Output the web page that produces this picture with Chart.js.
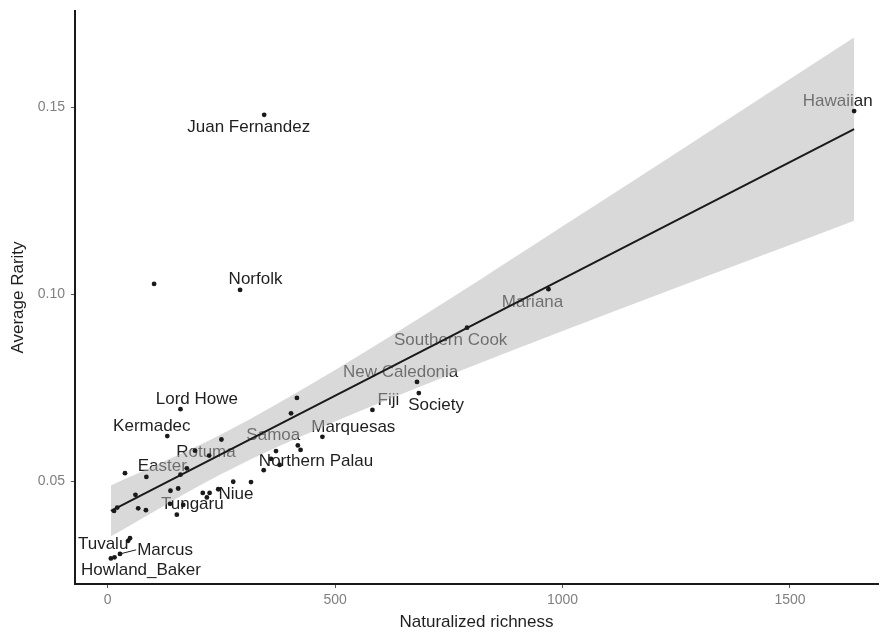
<!DOCTYPE html>
<html>
<head>
<meta charset="utf-8">
<title>Average rarity vs naturalized richness</title>
<script src="https://cdn.jsdelivr.net/npm/chart.js@4.4.1/dist/chart.umd.min.js"></script>
<style>
  html, body { margin: 0; padding: 0; background: #fff; }
  #wrap { width: 882px; height: 635px; }
</style>
</head>
<body>
<div id="wrap"><canvas id="chart" width="882" height="635"></canvas></div>
<script>
// Islands: the first 20 are labelled, in the same order as labelText
const richness = [1641, 344, 291, 969, 790, 680, 684, 582, 472, 370,
  343, 160, 131, 192, 174, 243, 137, 49, 27, 7,
  102, 416, 403, 418, 424, 359, 378, 250, 223, 160,
  38, 85, 61, 138, 155, 276, 315, 209, 224, 218,
  14, 21, 67, 84, 166, 152, 45, 15];
const rarity = [0.1489, 0.1479, 0.1011, 0.1013, 0.0910, 0.0765, 0.0735, 0.0690, 0.0618, 0.0580,
  0.0529, 0.0692, 0.0620, 0.0581, 0.0534, 0.0478, 0.0439, 0.0347, 0.0305, 0.0293,
  0.1027, 0.0722, 0.0681, 0.0595, 0.0583, 0.0559, 0.0543, 0.0611, 0.0568, 0.0517,
  0.0521, 0.0511, 0.0463, 0.0474, 0.0480, 0.0498, 0.0497, 0.0468, 0.0468, 0.0456,
  0.0420, 0.0429, 0.0427, 0.0422, 0.0436, 0.0410, 0.0340, 0.0296];

const labelText = ["Hawaiian", "Juan Fernandez", "Norfolk", "Mariana", "Southern Cook",
  "New Caledonia", "Society", "Fiji", "Marquesas", "Samoa",
  "Northern Palau", "Lord Howe", "Kermadec", "Rotuma", "Easter",
  "Niue", "Tungaru", "Tuvalu", "Marcus", "Howland_Baker"];
// where each label sits (data units)
const labelX = [1605, 310, 325, 934, 754, 644, 722, 617, 540, 364,
  458, 196, 97, 216, 120, 282, 186, -10, 126, 73];
const labelY = [0.1516, 0.1446, 0.1039, 0.0979, 0.0877, 0.0791, 0.0703, 0.0717, 0.0643, 0.0623,
  0.0552, 0.0719, 0.0647, 0.0578, 0.0538, 0.0465, 0.0439, 0.0332, 0.0316, 0.0262];
const leaderLabels = ["Marcus"];

// linear fit and its confidence band
const fitX = [7, 1641];
const fitY = [0.0420, 0.1441];
const bandX = [7, 250, 500, 750, 1000, 1250, 1500, 1641];
const bandUpper = [0.0488, 0.0625, 0.0797, 0.0985, 0.1181, 0.1377, 0.1575, 0.1686];
const bandLower = [0.0352, 0.0519, 0.0659, 0.0783, 0.0901, 0.1017, 0.1131, 0.1196];

const xTicks = [0, 500, 1000, 1500];
const yTicks = [0.05, 0.10, 0.15];
const xMin = -71.9, xMax = 1693.5;
const yMin = 0.02246, yMax = 0.17567;

const FONT = '"Liberation Sans", Arial, Helvetica, sans-serif';

// labels go under the band so the band greys them out, like the original
const islandLabels = {
  id: "islandLabels",
  beforeDatasetsDraw(chart) {
    const ctx = chart.ctx;
    const xs = chart.scales.x, ys = chart.scales.y;
    ctx.save();
    ctx.font = "17px " + FONT;
    ctx.fillStyle = "#1f1f1f";
    ctx.strokeStyle = "#1f1f1f";
    ctx.lineWidth = 1;
    ctx.textAlign = "center";
    ctx.textBaseline = "middle";
    labelText.forEach((t, i) => {
      const px = xs.getPixelForValue(labelX[i]);
      const py = ys.getPixelForValue(labelY[i]);
      ctx.fillText(t, px, py);
      if (leaderLabels.includes(t)) {
        const w = ctx.measureText(t).width;
        ctx.beginPath();
        ctx.moveTo(xs.getPixelForValue(richness[i]), ys.getPixelForValue(rarity[i]));
        ctx.lineTo(px - w / 2 - 1, py);
        ctx.stroke();
      }
    });
    ctx.restore();
  }
};

function xy(xsArr, ysArr) {
  return xsArr.map((x, i) => ({ x: x, y: ysArr[i] }));
}

new Chart(document.getElementById("chart"), {
  type: "scatter",
  data: {
    datasets: [
      {
        data: xy(richness, rarity),
        pointRadius: 2.4,
        pointBackgroundColor: "#1a1a1a",
        pointBorderWidth: 0,
        order: 0
      },
      {
        data: xy(fitX, fitY),
        showLine: true,
        borderColor: "#1a1a1a",
        borderWidth: 2,
        pointRadius: 0,
        order: 1
      },
      {
        data: xy(bandX, bandLower),
        showLine: true,
        borderWidth: 0,
        pointRadius: 0,
        cubicInterpolationMode: "monotone",
        fill: false,
        order: 3
      },
      {
        data: xy(bandX, bandUpper),
        showLine: true,
        borderWidth: 0,
        pointRadius: 0,
        cubicInterpolationMode: "monotone",
        backgroundColor: "rgba(183,183,183,0.52)",
        fill: "-1",
        order: 2
      }
    ]
  },
  options: {
    responsive: false,
    animation: false,
    devicePixelRatio: 1,
    layout: { padding: { top: 11, right: 0, bottom: 0, left: 0 } },
    plugins: {
      legend: { display: false },
      tooltip: { enabled: false }
    },
    scales: {
      x: {
        type: "linear",
        min: xMin,
        max: xMax,
        afterFit: s => { s.height = 51; },
        afterBuildTicks: s => { s.ticks = xTicks.map(v => ({ value: v })); },
        grid: { drawOnChartArea: false, drawTicks: true, tickLength: 4, color: "#555" },
        border: { display: true, color: "#1a1a1a", width: 2 },
        ticks: { color: "#808080", font: { family: FONT, size: 14 }, padding: 4, maxRotation: 0,
                 callback: v => String(v) },
        title: { display: true, text: "Naturalized richness", color: "#1f1f1f",
                 font: { family: FONT, size: 17 }, padding: { top: 0, bottom: 2 } }
      },
      y: {
        type: "linear",
        min: yMin,
        max: yMax,
        afterFit: s => { s.width = 75; s.paddingTop = 0; s.paddingBottom = 0; },
        afterBuildTicks: s => { s.ticks = yTicks.map(v => ({ value: v })); },
        grid: { drawOnChartArea: false, drawTicks: true, tickLength: 4, color: "#555" },
        border: { display: true, color: "#1a1a1a", width: 2 },
        ticks: { color: "#808080", font: { family: FONT, size: 14 }, padding: 6,
                 callback: v => v.toFixed(2) },
        title: { display: true, text: "Average Rarity", color: "#1f1f1f",
                 font: { family: FONT, size: 17 }, padding: { top: 8, bottom: 0 } }
      }
    }
  },
  plugins: [islandLabels]
});
</script>
</body>
</html>
